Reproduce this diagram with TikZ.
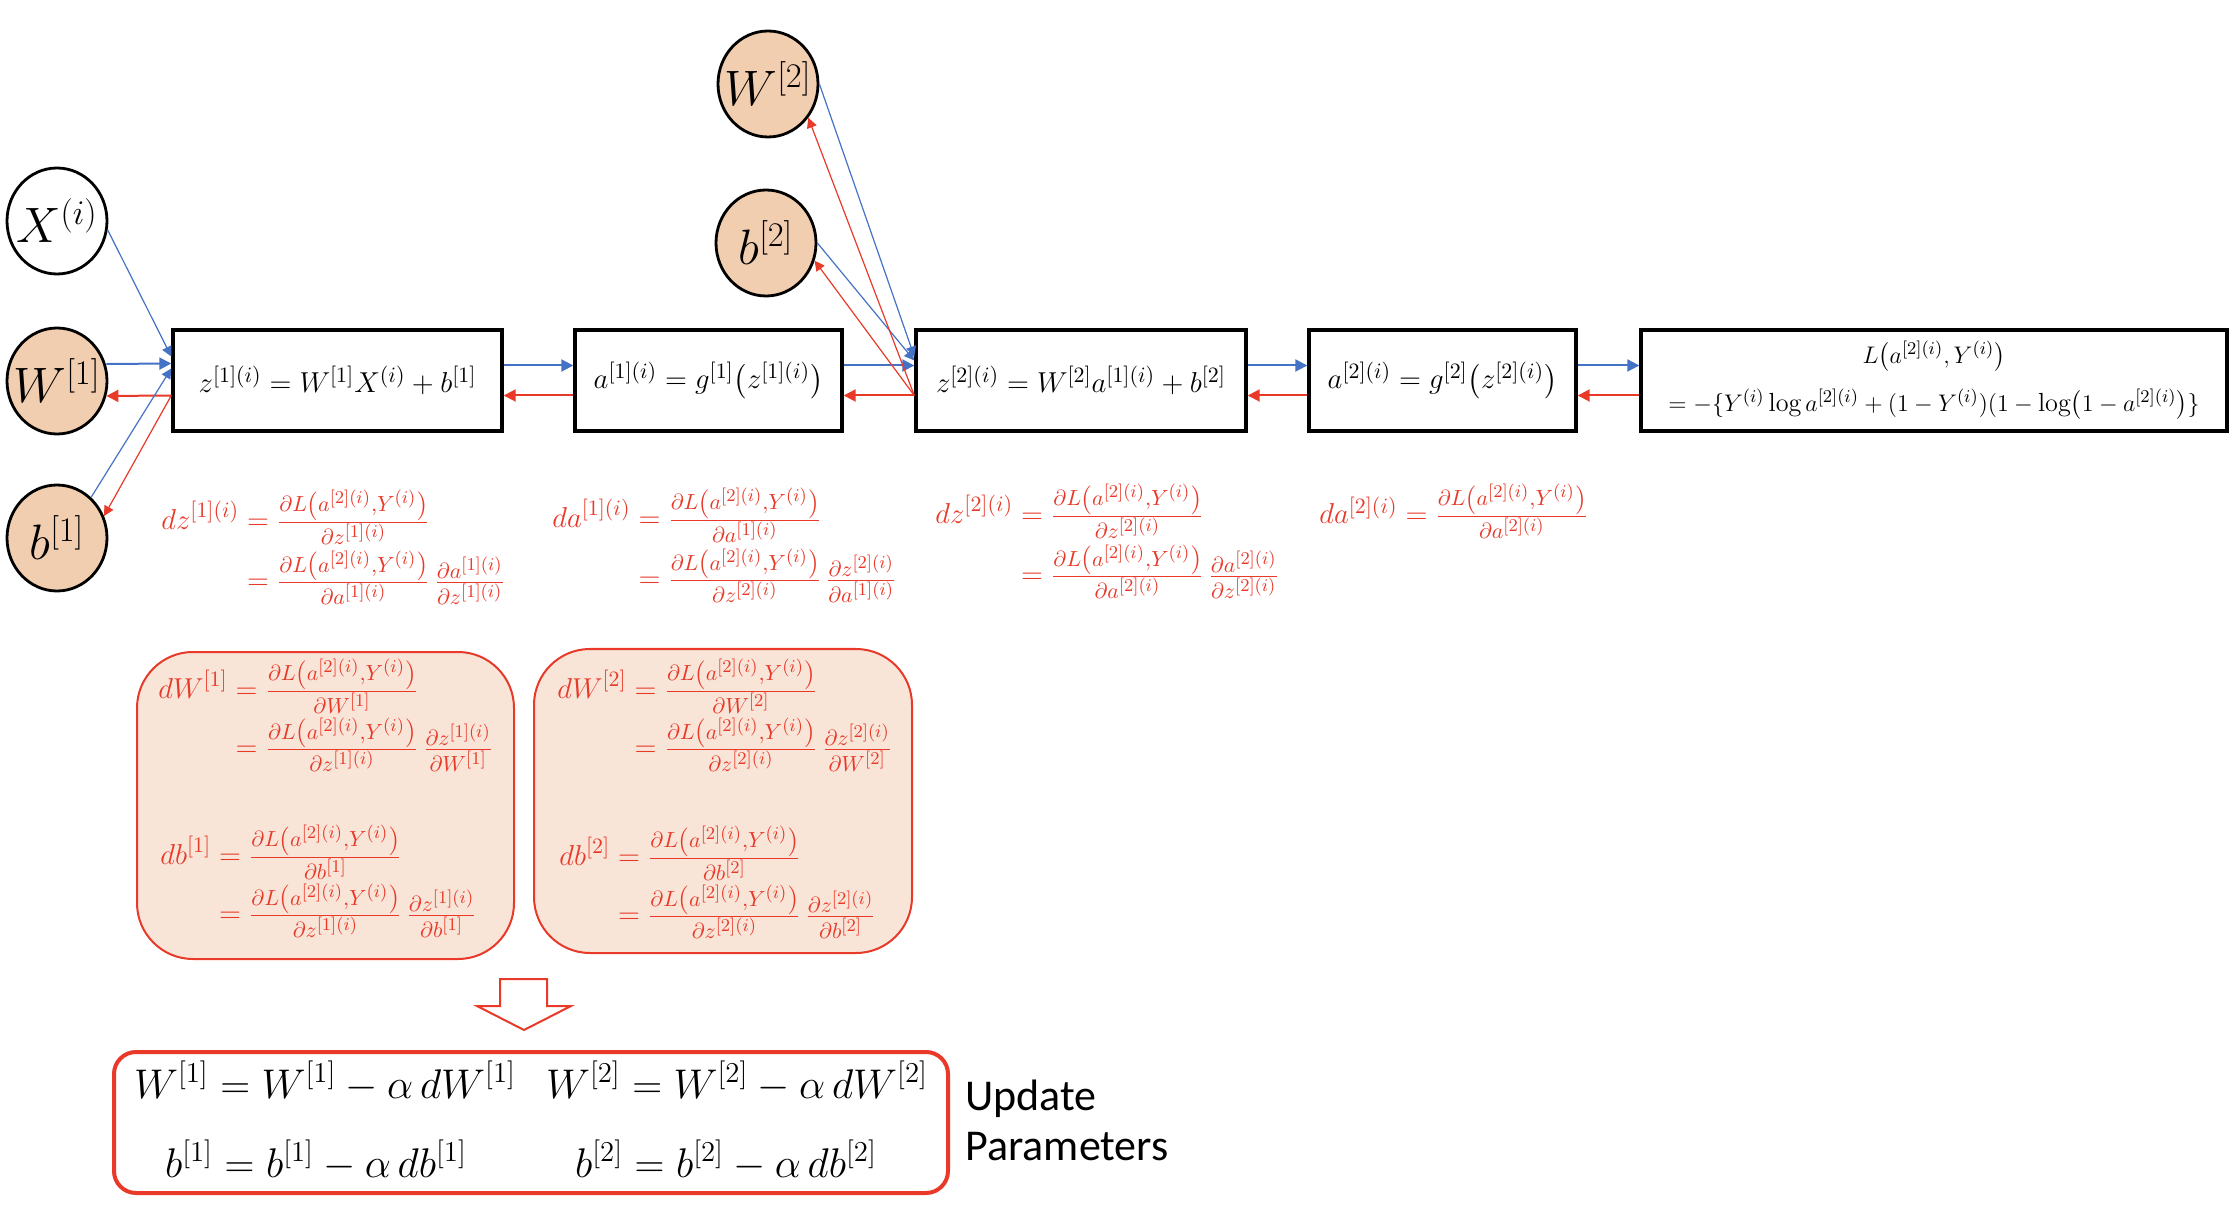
\documentclass[tikz,border=0pt]{standalone}
\usepackage{amsmath}
\usepackage{fontspec}
\newfontfamily\calfont{Carlito}
\usetikzlibrary{arrows.meta,shapes.geometric,calc}
\definecolor{myblue}{RGB}{68,114,196}
\definecolor{myred}{RGB}{232,57,41}
\definecolor{peach}{RGB}{242,206,176}
\definecolor{lightpeach}{RGB}{248,229,216}
\DeclareMathSizes{15}{15}{11}{9}
\newcommand{\LLn}{\partial L\left(a^{[2](i)},Y^{(i)}\right)}
\begin{document}
\begin{tikzpicture}[x=0.5pt,y=-0.5pt,
  circ/.style={ellipse, draw=black, line width=1.4pt, minimum width=50pt, minimum height=53pt, inner sep=0pt},
  pcirc/.style={circ, fill=peach},
  ctext/.style={font=\fontsize{24}{28}\selectfont},
  opbox/.style={rectangle, draw=black, line width=1.7pt, inner sep=0pt, minimum height=50.5pt, font=\fontsize{15.5}{19}\selectfont, align=center},
  fwd/.style={myblue, line width=1pt, -{Triangle[length=6pt,width=6pt]}},
  bwd/.style={myred, line width=1pt, -{Triangle[length=6pt,width=6pt]}},
  fwdthin/.style={myblue, line width=0.6pt, -{Triangle[length=5pt,width=5pt]}},
  bwdthin/.style={myred, line width=0.6pt, -{Triangle[length=5pt,width=5pt]}},
  deriv/.style={text=myred, inner sep=0pt, anchor=north west, font=\fontsize{15}{18}\selectfont},
  gradbox/.style={rectangle, draw=myred, fill=lightpeach, line width=1pt, rounded corners=28pt, inner sep=0pt},
  updtext/.style={anchor=base, inner sep=0pt, font=\fontsize{20}{24}\selectfont}
]
\useasboundingbox (0,0) rectangle (2238,1224);

% parameter circles
\node[circ]  (X)  at (57,221) {};
\node[ctext] at (X.center) {$X^{(i)}$};
\node[pcirc] (W1) at (57,381) {};
\node[ctext] at (W1.center) {$W^{[1]}$};
\node[pcirc] (b1) at (57,538) {};
\node[ctext] at (b1.center) {$b^{[1]}$};
\node[pcirc] (W2) at (768,84) {};
\node[ctext] at (W2.center) {$W^{[2]}$};
\node[pcirc] (b2) at (766,243) {};
\node[ctext] at (b2.center) {$b^{[2]}$};

% operation boxes
\node[opbox, minimum width=164.5pt] (box1) at (337.5,380.5) {$z^{[1](i)} = W^{[1]}X^{(i)} + b^{[1]}$};
\node[opbox, minimum width=133.5pt] (box2) at (708.5,380.5) {$a^{[1](i)} = g^{[1]}\bigl(z^{[1](i)}\bigr)$};
\node[opbox, minimum width=165pt]   (box3) at (1081,380.5) {$z^{[2](i)} = W^{[2]}a^{[1](i)} + b^{[2]}$};
\node[opbox, minimum width=133.5pt] (box4) at (1442.5,380.5) {$a^{[2](i)} = g^{[2]}\bigl(z^{[2](i)}\bigr)$};
\node[opbox, minimum width=293pt, font=\fontsize{13.1}{22}\selectfont] (box5) at (1934,380.5)
  {$L\bigl(a^{[2](i)},Y^{(i)}\bigr)$\\[2pt]
   $=-\{Y^{(i)}\log a^{[2](i)}+(1-Y^{(i)})(1-\log\bigl(1-a^{[2](i)}\bigr)\}$};

% forward / backward connectors
\draw[fwdthin] (X.-10) -- ($(box1.west)+(0,-24)$);
\draw[fwd] ($(W1.east)+(-2,-17)$) -- ($(box1.west)+(0,-17)$);
\draw[bwd] ($(box1.west)+(0,15)$) -- ($(W1.east)+(-2,15)$);
\draw[fwdthin] (b1.50) -- ($(box1.west)+(0,-12)$);
\draw[bwdthin] ($(box1.west)+(0,15)$) -- (b1.25);

\draw[fwd] ($(box1.east)+(0,-15)$) -- ($(box2.west)+(0,-15)$);
\draw[bwd] ($(box2.west)+(0,15)$) -- ($(box1.east)+(0,15)$);
\draw[fwd] ($(box2.east)+(0,-15)$) -- ($(box3.west)+(0,-15)$);
\draw[bwd] ($(box3.west)+(0,15)$) -- ($(box2.east)+(0,15)$);

\draw[fwdthin] (W2.east) -- ($(box3.west)+(0,-24)$);
\draw[fwdthin] (b2.east) -- ($(box3.west)+(0,-20)$);
\draw[bwdthin] ($(box3.west)+(0,15)$) -- (W2.-40);
\draw[bwdthin] ($(box3.west)+(0,15)$) -- (b2.-20);

\draw[fwd] ($(box3.east)+(0,-15)$) -- ($(box4.west)+(0,-15)$);
\draw[bwd] ($(box4.west)+(0,15)$) -- ($(box3.east)+(0,15)$);
\draw[fwd] ($(box4.east)+(0,-15)$) -- ($(box5.west)+(0,-15)$);
\draw[bwd] ($(box5.west)+(0,15)$) -- ($(box4.east)+(0,15)$);

% derivatives
\node[deriv] (dz1) at (161,490) {$\begin{aligned} dz^{[1](i)} &= \tfrac{\LLn}{\partial z^{[1](i)}}\\[-1pt] &= \tfrac{\LLn}{\partial a^{[1](i)}}\,\tfrac{\partial a^{[1](i)}}{\partial z^{[1](i)}}\end{aligned}$};
\node[deriv] (da1) at (552,488) {$\begin{aligned} da^{[1](i)} &= \tfrac{\LLn}{\partial a^{[1](i)}}\\[-1pt] &= \tfrac{\LLn}{\partial z^{[2](i)}}\,\tfrac{\partial z^{[2](i)}}{\partial a^{[1](i)}}\end{aligned}$};
\node[deriv] (dz2) at (935,484) {$\begin{aligned} dz^{[2](i)} &= \tfrac{\LLn}{\partial z^{[2](i)}}\\[-1pt] &= \tfrac{\LLn}{\partial a^{[2](i)}}\,\tfrac{\partial a^{[2](i)}}{\partial z^{[2](i)}}\end{aligned}$};
\node[deriv] (da2) at (1319,484) {$da^{[2](i)} = \tfrac{\LLn}{\partial a^{[2](i)}}$};

% gradient boxes
\node[gradbox, minimum width=188.5pt, minimum height=153.5pt] (gA) at (325.5,805.5) {};
\node[gradbox, minimum width=189pt, minimum height=152pt] (gB) at (723,801) {};

\node[deriv] (dW1) at (158,659) {$\begin{aligned} dW^{[1]} &= \tfrac{\LLn}{\partial W^{[1]}}\\[-2pt] &= \tfrac{\LLn}{\partial z^{[1](i)}}\,\tfrac{\partial z^{[1](i)}}{\partial W^{[1]}}\end{aligned}$};
\node[deriv] (db1) at (160,825) {$\begin{aligned} db^{[1]} &= \tfrac{\LLn}{\partial b^{[1]}}\\[-2pt] &= \tfrac{\LLn}{\partial z^{[1](i)}}\,\tfrac{\partial z^{[1](i)}}{\partial b^{[1]}}\end{aligned}$};
\node[deriv] (dW2) at (557,659) {$\begin{aligned} dW^{[2]} &= \tfrac{\LLn}{\partial W^{[2]}}\\[-2pt] &= \tfrac{\LLn}{\partial z^{[2](i)}}\,\tfrac{\partial z^{[2](i)}}{\partial W^{[2]}}\end{aligned}$};
\node[deriv] (db2) at (559,826) {$\begin{aligned} db^{[2]} &= \tfrac{\LLn}{\partial b^{[2]}}\\[-2pt] &= \tfrac{\LLn}{\partial z^{[2](i)}}\,\tfrac{\partial z^{[2](i)}}{\partial b^{[2]}}\end{aligned}$};

% block arrow
\draw[myred, fill=white, line width=1pt, line join=miter]
  (500,979) -- (547,979) -- (547,1006) -- (571,1006) -- (524,1030) -- (477,1006) -- (500,1006) -- cycle;

% update box
\node[rectangle, draw=myred, line width=2pt, rounded corners=11pt, minimum width=417pt, minimum height=70.5pt, inner sep=0pt] (upd) at (531,1122.5) {};
\node[updtext] (u1) at (325,1098) {$W^{[1]} = W^{[1]} - \alpha\, dW^{[1]}$};
\node[updtext] (u2) at (737,1098) {$W^{[2]} = W^{[2]} - \alpha\, dW^{[2]}$};
\node[updtext] (u3) at (316,1177) {$b^{[1]} = b^{[1]} - \alpha\, db^{[1]}$};
\node[updtext] (u4) at (726,1177) {$b^{[2]} = b^{[2]} - \alpha\, db^{[2]}$};
\node[anchor=north west, inner sep=0pt, align=left, font=\calfont\fontsize{22}{25}\selectfont] (updlabel) at (965,1080) {Update\\Parameters};
\end{tikzpicture}
\end{document}
